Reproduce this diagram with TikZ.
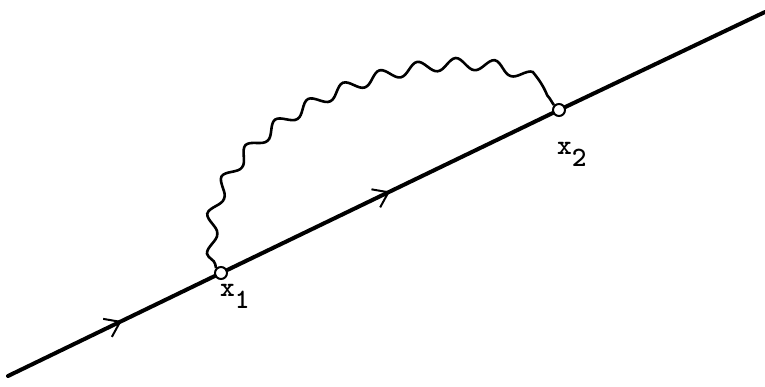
\documentclass[tikz,border=0pt]{standalone}
\usetikzlibrary{decorations.pathmorphing,decorations.markings,arrows.meta}
\tikzset{
  fermion/.style={line width=4pt, line cap=round},
  photon/.style={line width=2.6pt, decorate, decoration={snake, segment length=38pt, amplitude=6pt, pre length=4pt, post length=2pt}},
  vertex/.style={circle, draw, fill=white, line width=2pt, inner sep=0pt, minimum size=12pt},
  midarrow/.style={postaction={decorate, decoration={markings, mark=at position #1 with {\arrow[line width=2pt]{Straight Barb[length=14pt,width=20pt]}}}}},
  lbl/.style={font=\ttfamily\bfseries\fontsize{28}{28}\selectfont, inner sep=0pt}
}
\begin{document}
\begin{tikzpicture}[x=1pt,y=-1pt]
\useasboundingbox (0,0) rectangle (765,386);
\coordinate (a) at (8,376);
\coordinate (b) at (765,12);
\node[vertex] (v1) at (221,273) {};
\node[vertex] (v2) at (559,110) {};
\draw[fermion, midarrow=0.55] (a) -- (v1);
\draw[fermion, midarrow=0.5] (v1) -- (v2);
\draw[fermion] (v2) -- (b);
\draw[photon] (v1.north west) .. controls (180,115) and (490,20) .. (v2.north west);
\node[lbl, anchor=base west] (l1) at (220,296) {x\raisebox{-0.45em}{1}};
\node[lbl, anchor=base west] (l2) at (557,154) {x\raisebox{-0.45em}{2}};
\end{tikzpicture}
\end{document}
